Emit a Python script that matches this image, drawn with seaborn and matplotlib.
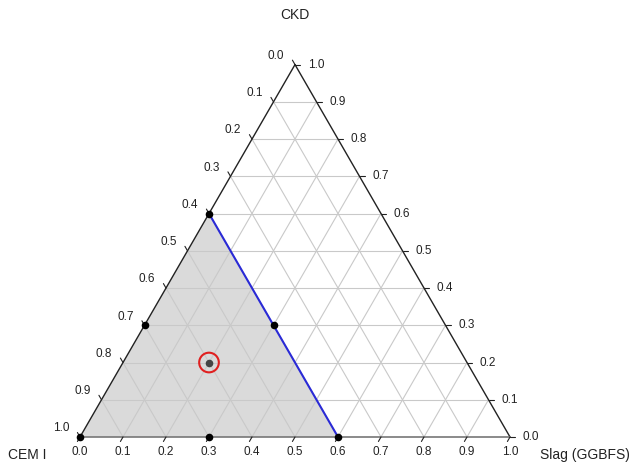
import numpy as np
import pandas as pd
import matplotlib
matplotlib.use("Agg")
import matplotlib.pyplot as plt
import seaborn as sns

# mix compositions (fractions): CEM I, Slag (GGBFS), CKD
cem = [1.0, 0.7, 0.4, 0.4, 0.4, 0.7]
slag = [0.0, 0.0, 0.0, 0.3, 0.6, 0.3]
ckd = [0.0, 0.3, 0.6, 0.3, 0.0, 0.0]

# highlighted mix
hl_cem, hl_slag, hl_ckd = 0.6, 0.2, 0.2

# boundary line: CEM I = 0.4
bound_cem = 0.4

ticks = [round(0.1 * i, 1) for i in range(11)]
H = np.sqrt(3) / 2


def to_xy(s, k):
    # s = slag fraction, k = CKD fraction
    return np.asarray(s) + np.asarray(k) / 2, np.asarray(k) * H


def main():
    sns.set_style("white")
    plt.rcParams["font.family"] = ["Liberation Sans", "DejaVu Sans"]

    fig = plt.figure(figsize=(6.33, 4.63), dpi=100)
    ax = fig.add_axes([0, 0, 1, 1])
    ax.set_xlim(-80 / 430, 553 / 430)
    ax.set_ylim(-26 / 430, 437 / 430)
    ax.set_aspect("equal")
    ax.axis("off")

    # shaded region CEM I >= 0.4
    px, py = to_xy([0, 0, 1 - bound_cem], [0, 1 - bound_cem, 0])
    ax.fill(px, py, color="#dadada", zorder=1, lw=0)

    # grid
    grid_c = "#c9c9c9"
    for t in ticks[1:-1]:
        # constant CKD (horizontal)
        x, y = to_xy([0, 1 - t], [t, t])
        ax.plot(x, y, color=grid_c, lw=0.8, zorder=2)
        # constant slag
        x, y = to_xy([t, t], [0, 1 - t])
        ax.plot(x, y, color=grid_c, lw=0.8, zorder=2)
        # constant CEM I
        x, y = to_xy([0, 1 - t], [1 - t, 0])
        ax.plot(x, y, color=grid_c, lw=0.8, zorder=2)

    # triangle edges
    ax.plot([0, 0.5], [0, H], color="#222222", lw=1.0, zorder=3)
    ax.plot([0.5, 1], [H, 0], color="#222222", lw=1.0, zorder=3)
    ax.plot([0, 1.0], [0, 0], color="#777777", lw=1.2, zorder=3)

    tl = 0.012
    fs = 8.5
    for t in ticks:
        # left axis: CEM I (1 at bottom-left)
        x, y = to_xy(0, 1 - t)
        ax.plot([x, x - tl * 0.5], [y, y + tl * H], color="#222222", lw=0.8, zorder=3)
        ax.text(x - 0.025, y + 0.02, f"{t:.1f}", fontsize=fs, ha="right", va="center",
                color="#222222")
        # right axis: CKD
        x, y = to_xy(1 - t, t)
        ax.plot([x, x + tl], [y, y], color="#222222", lw=0.8, zorder=3)
        ax.text(x + 0.03, y, f"{t:.1f}", fontsize=fs, ha="left", va="center",
                color="#222222")
        # bottom axis: slag
        x, y = to_xy(t, 0)
        ax.plot([x, x - tl * 0.5], [y, y - tl * H], color="#222222", lw=0.8, zorder=3)
        ax.text(x, y - 0.035, f"{t:.1f}", fontsize=fs, ha="center", va="center",
                color="#222222")

    # boundary line
    bx, by = to_xy([0, 1 - bound_cem], [1 - bound_cem, 0])
    line_df = pd.DataFrame({"x": bx, "y": by})
    sns.lineplot(data=line_df, x="x", y="y", ax=ax, color="#2a2ad6", lw=1.5,
                 sort=False, zorder=4)

    # mix points
    x, y = to_xy(slag, ckd)
    pts = pd.DataFrame({"x": x, "y": y})
    sns.scatterplot(data=pts, x="x", y="y", ax=ax, color="black", s=30,
                    edgecolor="black", linewidth=0, zorder=5)

    hx, hy = to_xy(hl_slag, hl_ckd)
    hl = pd.DataFrame({"x": [hx], "y": [hy]})
    sns.scatterplot(data=hl, x="x", y="y", ax=ax, color="#444444", s=30,
                    linewidth=0, zorder=5)
    sns.scatterplot(data=hl, x="x", y="y", ax=ax, s=200, facecolor="none",
                    edgecolor="#e02020", linewidth=1.5, zorder=5)

    ax.set_xlabel("")
    ax.set_ylabel("")

    ax.text(0.5, 422 / 430, "CKD", fontsize=10, ha="center", va="center", color="#222222")
    ax.text(-53 / 430, -18 / 430, "CEM I", fontsize=10, ha="center", va="center",
            color="#222222")
    ax.text(505 / 430, -18 / 430, "Slag (GGBFS)", fontsize=10, ha="center", va="center",
            color="#222222")

    fig.savefig("out.png", dpi=100)


if __name__ == "__main__":
    main()
